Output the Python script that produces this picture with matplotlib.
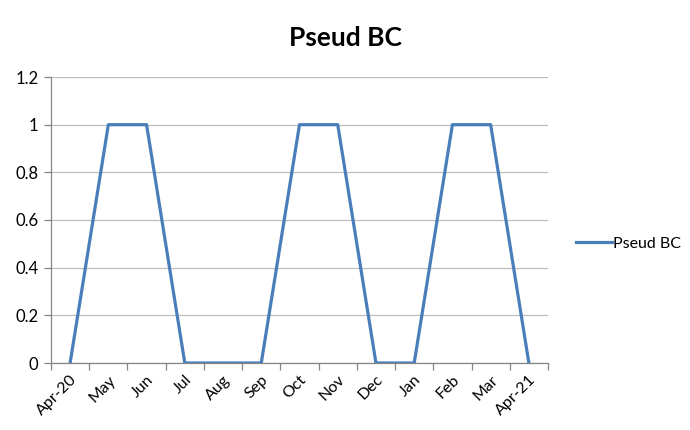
import numpy as np
import matplotlib
matplotlib.use("Agg")
import matplotlib.pyplot as plt

months = ["Apr-20", "May", "Jun", "Jul", "Aug", "Sep", "Oct",
          "Nov", "Dec", "Jan", "Feb", "Mar", "Apr-21"]
pseud_bc = [0, 1, 1, 0, 0, 0, 1, 1, 0, 0, 1, 1, 0]
y_ticks = [0, 0.2, 0.4, 0.6, 0.8, 1, 1.2]
y_labels = ["0", "0.2", "0.4", "0.6", "0.8", "1", "1.2"]

plt.rcParams["font.family"] = ["Lato", "DejaVu Sans"]

fig = plt.figure(figsize=(6.9, 4.3), dpi=100)
ax = fig.add_axes([51 / 690, 67 / 430, 497 / 690, 286 / 430])

x = np.arange(len(months))
line, = ax.plot(x, pseud_bc, color="#4A7EBB", lw=2.3, label="Pseud BC", zorder=3)

ax.set_xlim(-0.5, len(months) - 0.5)
ax.set_ylim(0, 1.2)
ax.set_yticks(y_ticks)
ax.set_yticklabels(y_labels, fontsize=12)
ax.yaxis.grid(True, color="#BFBFBF", lw=0.9)
ax.set_axisbelow(True)

ax.set_xticks(x)
ax.set_xticklabels(months, rotation=45, ha="right", va="top",
                   rotation_mode="anchor", fontsize=11.5)
ax.tick_params(axis="x", length=0, pad=7)
ax.set_xticks(np.arange(-0.5, len(months)), minor=True)
ax.tick_params(axis="x", which="minor", length=5, color="#868686", width=0.9)
ax.tick_params(axis="y", length=5, color="#868686", width=0.9, pad=4)

for side in ("top", "right"):
    ax.spines[side].set_visible(False)
for side in ("left", "bottom"):
    ax.spines[side].set_color("#868686")
    ax.spines[side].set_linewidth(0.9)

fig.text(0.5, 1 - 38 / 430, "Pseud BC", ha="center", va="center",
         fontsize=19, fontweight="bold")

fig.legend(handles=[line], loc="center left", bbox_to_anchor=(562 / 690, 1 - 244 / 430),
           frameon=False, fontsize=11.5, handlelength=2.2, handletextpad=0.1)

fig.savefig("out.png", dpi=100)
